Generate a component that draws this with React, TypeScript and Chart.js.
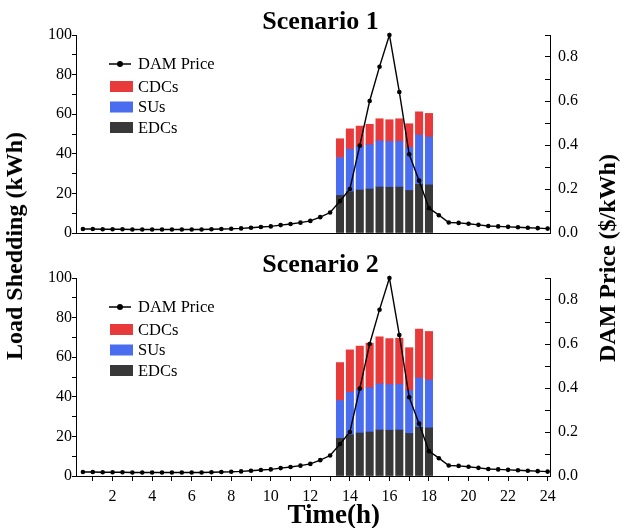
import React, { useEffect, useRef } from 'react';
import { Chart, registerables } from 'chart.js';

Chart.register(...registerables);

const FONT = "'Liberation Serif', 'Times New Roman', Times, serif";

// ---------- data ----------
const hours = [
  0.5, 1, 1.5, 2, 2.5, 3, 3.5, 4, 4.5, 5, 5.5, 6, 6.5, 7, 7.5, 8,
  8.5, 9, 9.5, 10, 10.5, 11, 11.5, 12, 12.5, 13, 13.5, 14, 14.5, 15, 15.5, 16,
  16.5, 17, 17.5, 18, 18.5, 19, 19.5, 20, 20.5, 21, 21.5, 22, 22.5, 23, 23.5, 24,
];
const damPrice = [
  0.018, 0.018, 0.017, 0.017, 0.017, 0.016, 0.016, 0.016, 0.016, 0.016, 0.016, 0.016, 0.016, 0.017, 0.018, 0.019,
  0.021, 0.024, 0.027, 0.030, 0.036, 0.041, 0.047, 0.055, 0.072, 0.093, 0.145, 0.200, 0.397, 0.600, 0.756, 0.900,
  0.641, 0.358, 0.238, 0.113, 0.081, 0.048, 0.046, 0.042, 0.037, 0.032, 0.030, 0.028, 0.026, 0.024, 0.022, 0.020,
];
const barHours = [13.5, 14, 14.5, 15, 15.5, 16, 16.5, 17, 17.5, 18];
const edcs = [19.0, 20.8, 21.7, 22.2, 23.2, 23.1, 23.2, 21.5, 24.6, 24.3];
const sus = [19.1, 21.5, 21.9, 22.4, 23.3, 23.1, 23.1, 21.7, 24.9, 24.2];
const cdcsScenario1 = [9.5, 10.3, 10.4, 10.3, 11.2, 11.0, 11.4, 12.0, 11.7, 11.9];
const cdcsScenario2 = [19.2, 21.4, 22.0, 22.5, 23.8, 23.2, 23.3, 21.6, 24.7, 24.5];

const xTickLabels = [2, 4, 6, 8, 10, 12, 14, 16, 18, 20, 22, 24];
const leftTickLabels = [0, 20, 40, 60, 80, 100];
const rightTickLabels = ['0.0', '0.2', '0.4', '0.6', '0.8'];

const COLOR_EDC = '#383838';
const COLOR_SU = '#4a6cee';
const COLOR_CDC = '#e83a3a';

// ---------- legend drawn inside the plot area ----------
const legendPlugin = {
  id: 'insideLegend',
  afterDraw(chart: any) {
    const ctx = chart.ctx as CanvasRenderingContext2D;
    const { left, top } = chart.chartArea;
    const ds = chart.data.datasets;
    const order = [0, 3, 2, 1]; // DAM Price, CDCs, SUs, EDCs
    const rowOffsets = [29, 51.5, 72, 92.5];
    ctx.save();
    ctx.font = `16.5px ${FONT}`;
    ctx.textBaseline = 'middle';
    ctx.textAlign = 'left';
    order.forEach((di, i) => {
      const d = ds[di];
      const y = top + rowOffsets[i];
      const bx = left + 34;
      if (d.type === 'line') {
        ctx.strokeStyle = '#000';
        ctx.lineWidth = 1.5;
        ctx.beginPath();
        ctx.moveTo(bx - 1, y);
        ctx.lineTo(bx + 21, y);
        ctx.stroke();
        ctx.fillStyle = '#000';
        ctx.beginPath();
        ctx.arc(bx + 10, y, 3, 0, Math.PI * 2);
        ctx.fill();
      } else {
        ctx.fillStyle = d.backgroundColor;
        ctx.fillRect(bx, y - 5.5, 23, 11);
      }
      ctx.fillStyle = '#000';
      ctx.fillText(d.label, left + 62, y + 1);
    });
    ctx.restore();
  },
};

function buildConfig(cdcs: number[], bottom: boolean): any {
  const pts = (xs: number[], ys: number[]) => xs.map((x, i) => ({ x, y: ys[i] }));
  const tickFont = { family: FONT, size: 16 };
  return {
    type: 'bar',
    data: {
      datasets: [
        {
          type: 'line', label: 'DAM Price', data: pts(hours, damPrice), yAxisID: 'y1',
          borderColor: '#000', backgroundColor: '#000', borderWidth: 1.4,
          pointRadius: 2.3, pointHoverRadius: 2.3, pointBackgroundColor: '#000', pointBorderWidth: 0,
          tension: 0, clip: false,
        },
        { type: 'bar', label: 'EDCs', data: pts(barHours, edcs), backgroundColor: COLOR_EDC, yAxisID: 'y', stack: 'load', barThickness: 7.4, grouped: false },
        { type: 'bar', label: 'SUs', data: pts(barHours, sus), backgroundColor: COLOR_SU, yAxisID: 'y', stack: 'load', barThickness: 7.4, grouped: false },
        { type: 'bar', label: 'CDCs', data: pts(barHours, cdcs), backgroundColor: COLOR_CDC, yAxisID: 'y', stack: 'load', barThickness: 7.4, grouped: false },
      ],
    },
    options: {
      responsive: false,
      animation: false,
      events: [],
      layout: { autoPadding: false, padding: { top: bottom ? 28 : 35, left: 0, right: 0, bottom: 0 } },
      plugins: { legend: { display: false }, title: { display: false }, tooltip: { enabled: false } },
      scales: {
        x: {
          type: 'linear', position: 'bottom', min: 0.15, max: 24.12, offset: false,
          afterFit: (s: any) => { s.height = bottom ? 52 : 23; },
          grid: {
            display: true, drawOnChartArea: false, drawTicks: true, tickLength: 5,
            color: '#000', tickColor: bottom ? '#000' : 'rgba(0,0,0,0)', offset: false,
          },
          border: { display: true, color: '#000', width: 1 },
          ticks: {
            display: true, stepSize: 1, autoSkip: false, includeBounds: false, maxRotation: 0, padding: 6,
            color: '#000', font: tickFont,
            callback: (v: number) => (bottom && xTickLabels.includes(v) ? String(v) : ''),
          },
        },
        y: {
          type: 'linear', position: 'left', stacked: true, min: 0, max: 100,
          afterFit: (s: any) => { s.width = 76; },
          grid: { drawOnChartArea: false, tickLength: 4, color: '#000' },
          border: { display: true, color: '#000', width: 1 },
          ticks: {
            stepSize: 10, autoSkip: false, padding: 0, color: '#000', font: tickFont,
            callback: (v: number) => (leftTickLabels.includes(v) ? String(v) : ''),
          },
        },
        y1: {
          type: 'linear', position: 'right', min: 0, max: 0.9,
          afterFit: (s: any) => { s.width = 71; },
          grid: { drawOnChartArea: false, tickLength: -5, color: '#000' },
          border: { display: true, color: '#000', width: 1 },
          ticks: {
            stepSize: 0.1, autoSkip: false, padding: 13, color: '#000', font: tickFont,
            callback: (v: number) => {
              const s = Number(v).toFixed(1);
              return rightTickLabels.includes(s) && v < 0.85 ? s : '';
            },
          },
        },
      },
    },
    plugins: [legendPlugin],
  };
}

function ChartCanvas({ cdcs, bottom, top, height }: { cdcs: number[]; bottom: boolean; top: number; height: number }) {
  const ref = useRef<HTMLCanvasElement | null>(null);
  useEffect(() => {
    if (!ref.current) return;
    const chart = new Chart(ref.current, buildConfig(cdcs, bottom));
    return () => chart.destroy();
  }, [cdcs, bottom]);
  return <canvas ref={ref} width={621} height={height} style={{ position: 'absolute', left: 0, top, width: 621, height }} />;
}

const titleBase: React.CSSProperties = {
  position: 'absolute', fontFamily: FONT, fontWeight: 'bold', color: '#000', whiteSpace: 'nowrap', lineHeight: 1,
};

export default function App() {
  return (
    <div style={{ position: 'fixed', left: 0, top: 0, width: 621, height: 528, background: '#fff', overflow: 'hidden' }}>
      <ChartCanvas cdcs={cdcsScenario1} bottom={false} top={0} height={256} />
      <ChartCanvas cdcs={cdcsScenario2} bottom={true} top={250} height={278} />
      <div style={{ ...titleBase, fontSize: 26, left: 320.5, top: 7.5, transform: 'translateX(-50%)' }}>Scenario 1</div>
      <div style={{ ...titleBase, fontSize: 26, left: 320.5, top: 250.5, transform: 'translateX(-50%)' }}>Scenario 2</div>
      <div style={{ ...titleBase, fontSize: 27, left: 333.7, top: 501.4, transform: 'translateX(-50%)' }}>Time(h)</div>
      <div style={{ ...titleBase, fontSize: 24, left: 14, top: 246, transform: 'translate(-50%, -50%) rotate(-90deg)' }}>Load Shedding (kWh)</div>
      <div style={{ ...titleBase, fontSize: 24, left: 606.7, top: 257.7, transform: 'translate(-50%, -50%) rotate(-90deg)' }}>DAM Price ($/kWh)</div>
    </div>
  );
}
